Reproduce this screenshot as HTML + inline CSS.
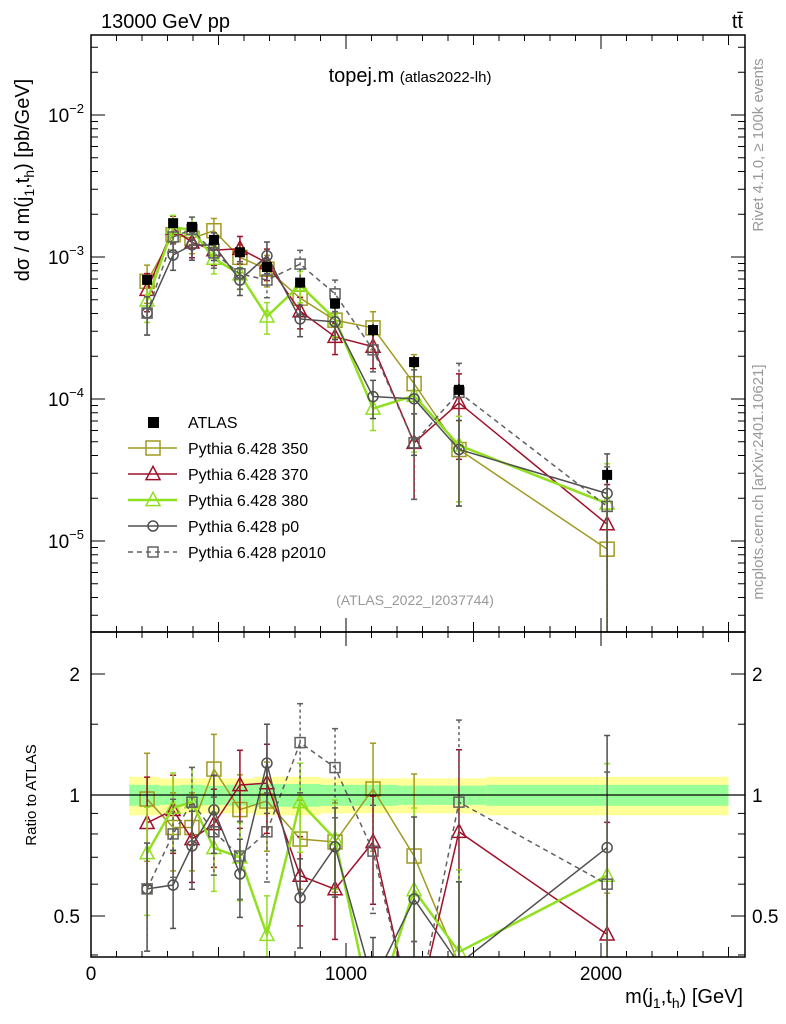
<!DOCTYPE html>
<html><head><meta charset="utf-8"><style>
html,body{margin:0;padding:0;background:#fff;width:786px;height:1024px;overflow:hidden;}
svg{display:block;font-family:"Liberation Sans",sans-serif;}
</style></head><body>
<svg id="chart" width="786" height="1024" viewBox="0 0 786 1024" xmlns="http://www.w3.org/2000/svg">
<defs>
<clipPath id="clipMain"><rect x="91" y="35" width="654" height="597"/></clipPath>
<clipPath id="clipRatio"><rect x="91" y="632" width="654" height="325"/></clipPath>
</defs>
<g id="band" clip-path="url(#clipRatio)"></g>
<g id="grid"></g>
<g id="mainMarks" clip-path="url(#clipMain)"></g>
<g id="ratioMarks" clip-path="url(#clipRatio)"></g>
<rect x="91" y="35" width="654" height="597" fill="none" stroke="#000" stroke-width="1.5"/>
<rect x="91" y="632" width="654" height="325" fill="none" stroke="#000" stroke-width="1.5"/>
<line x1="91" y1="795" x2="745" y2="795" stroke="#000" stroke-width="1.2"/>
<g id="axes"></g>
<text x="101" y="28" font-size="20">13000 GeV pp</text>
<text x="743" y="28" font-size="20" text-anchor="end">tt̄</text>
<text x="410" y="82" font-size="20" text-anchor="middle">topej.m <tspan font-size="15">(atlas2022-lh)</tspan></text>
<text x="415" y="605" font-size="14" fill="#999" text-anchor="middle">(ATLAS_2022_I2037744)</text>
<text transform="translate(29,180) rotate(-90)" font-size="20" text-anchor="middle">dσ / d m(j<tspan font-size="14" dy="5">1</tspan><tspan dy="-5">,t</tspan><tspan font-size="14" dy="5">h</tspan><tspan dy="-5">) [pb/GeV]</tspan></text>
<text transform="translate(36,795) rotate(-90)" font-size="15" text-anchor="middle">Ratio to ATLAS</text>
<text x="743" y="1003" font-size="20" text-anchor="end">m(j<tspan font-size="14" dy="5">1</tspan><tspan dy="-5">,t</tspan><tspan font-size="14" dy="5">h</tspan><tspan dy="-5">) [GeV]</tspan></text>
<text transform="translate(763,145) rotate(-90)" font-size="15" fill="#999" text-anchor="middle">Rivet 4.1.0, ≥ 100k events</text>
<text transform="translate(763,482) rotate(-90)" font-size="15" fill="#999" text-anchor="middle">mcplots.cern.ch [arXiv:2401.10621]</text>
<g id="legend"></g>
</svg>
<script>
const binCenters = [220, 322, 396, 482, 584, 690, 820, 957, 1106, 1267, 1443, 2024];
const atlasValues = [6.9e-4, 1.73e-3, 1.63e-3, 1.32e-3, 1.08e-3, 8.5e-4, 6.6e-4, 4.7e-4, 3.06e-4, 1.82e-4, 1.16e-4, 2.92e-5];
const atlasRelErr = [0.08, 0.07, 0.07, 0.07, 0.07, 0.08, 0.08, 0.08, 0.1, 0.1, 0.1, 0.12];
const ratio350 = [0.977, 0.83, 0.83, 1.16, 0.92, 0.966, 0.777, 0.764, 1.035, 0.705, 0.38, 0.30];
const ratio370 = [0.852, 0.918, 0.777, 0.847, 1.059, 1.07, 0.63, 0.583, 0.764, 0.27, 0.81, 0.45];
const ratio380 = [0.717, 0.93, 0.96, 0.738, 0.70, 0.449, 0.96, 0.777, 0.28, 0.58, 0.407, 0.63];
const ratioP0 = [0.584, 0.597, 0.747, 0.918, 0.636, 1.2, 0.555, 0.743, 0.34, 0.551, 0.38, 0.74];
const ratioP2010 = [0.584, 0.80, 0.96, 0.81, 0.705, 0.81, 1.35, 1.17, 0.725, 0.27, 0.96, 0.6];
const mcRelErr = [0.3, 0.22, 0.22, 0.22, 0.22, 0.25, 0.25, 0.25, 0.3, 0.6, 0.6, 0.9];
const bandEdges = [150, 270, 350, 440, 530, 640, 740, 900, 1000, 1200, 1350, 1550, 2500];
const bandInner = [0.06, 0.055, 0.06, 0.055, 0.06, 0.065, 0.065, 0.06, 0.06, 0.055, 0.055, 0.06];
const bandOuter = [0.11, 0.1, 0.1, 0.1, 0.1, 0.11, 0.11, 0.1, 0.1, 0.1, 0.1, 0.11];
const xTicksMajor = [0, 1000, 2000];
const yTickExps = [-2, -3, -4, -5];
const ratioTicks = [2, 1, 0.5];

const NS = "http://www.w3.org/2000/svg";
const X = v => 91 + v * 0.255;
const Y = v => 257 - (Math.log10(v) + 3) * 142;
const R = v => 795 - Math.log2(v) * 121;
function mk(tag, attrs, parent) {
  const e = document.createElementNS(NS, tag);
  for (const k in attrs) e.setAttribute(k, attrs[k]);
  parent.appendChild(e);
  return e;
}
const band = document.getElementById('band');
for (let i = 0; i < bandInner.length; i++) {
  const x0 = X(bandEdges[i]), x1 = X(bandEdges[i + 1]);
  const o = mk('rect', {x: x0, y: R(1 + bandOuter[i]), width: x1 - x0, height: R(1 - bandOuter[i]) - R(1 + bandOuter[i]), fill: '#ffff99'}, band);
  
  
  const n = mk('rect', {x: x0, y: R(1 + bandInner[i]), width: x1 - x0, height: R(1 - bandInner[i]) - R(1 + bandInner[i]), fill: '#99ff99'}, band);
  
  
}
const axes = document.getElementById('axes');
for (let v = 0; v <= 2500; v += 100) {
  const big = v % 1000 === 0, mid = v % 500 === 0;
  const len = big ? 14 : (mid ? 10 : 6);
  for (const [yb, dir] of [[632, -1], [957, -1], [35, 1], [632, 1]]) {
    mk('line', {x1: X(v), x2: X(v), y1: yb, y2: yb + dir * len, stroke: '#000', 'stroke-width': 1}, axes);
  }
}
xTicksMajor.forEach(v => {
  const t = mk('text', {x: X(v), y: 980, 'font-size': 19, 'text-anchor': 'middle'}, axes);
  t.textContent = v;
  
  
});
for (let e = -6; e <= -1; e++) {
  for (let m = 1; m <= 9; m++) {
    const y = Y(m * Math.pow(10, e));
    if (y < 35 || y > 632) continue;
    const len = m === 1 ? 14 : 7;
    mk('line', {x1: 91, x2: 91 + len, y1: y, y2: y, stroke: '#000'}, axes);
    mk('line', {x1: 745, x2: 745 - len, y1: y, y2: y, stroke: '#000'}, axes);
  }
}
yTickExps.forEach(e => {
  const t = mk('text', {x: 84, y: Y(Math.pow(10, e)) + 7, 'font-size': 19, 'text-anchor': 'end'}, axes);
  t.innerHTML = '10<tspan font-size="13" dy="-9">' + (e < 0 ? '−' : '') + Math.abs(e) + '</tspan>';
  
  
});
[0.4,0.5,0.6,0.7,0.8,0.9,1,1.5,2].forEach(v => {
  const y = R(v);
  const len = (v === 1 || v === 2 || v === 0.5) ? 14 : 7;
  mk('line', {x1: 91, x2: 91 + len, y1: y, y2: y, stroke: '#000'}, axes);
  mk('line', {x1: 745, x2: 745 - len, y1: y, y2: y, stroke: '#000'}, axes);
});
ratioTicks.forEach(v => {
  const t = mk('text', {x: 80, y: R(v) + 7, 'font-size': 19, 'text-anchor': 'end'}, axes);
  t.textContent = v;
  
  
  const t2 = mk('text', {x: 752, y: R(v) + 7, 'font-size': 19}, axes);
  t2.textContent = v;
  
  
});

function marker(shape, x, y, col, sw, parent, size) {
  if (shape === 'sq') mk('rect', {x: x - size, y: y - size, width: 2 * size, height: 2 * size, fill: 'none', stroke: col, 'stroke-width': sw}, parent);
  else if (shape === 'tri') mk('polygon', {points: `${x},${y - size * 1.1} ${x - size},${y + size * 0.8} ${x + size},${y + size * 0.8}`, fill: 'none', stroke: col, 'stroke-width': sw}, parent);
  else if (shape === 'circ') mk('circle', {cx: x, cy: y, r: size, fill: 'none', stroke: col, 'stroke-width': sw}, parent);
}
const series = [
  {name: 'Pythia 6.428 350', ratios: ratio350, col: '#a09a20', shape: 'sq', size: 7, sw: 1.5, dash: ''},
  {name: 'Pythia 6.428 370', ratios: ratio370, col: '#a0102a', shape: 'tri', size: 7, sw: 1.5, dash: ''},
  {name: 'Pythia 6.428 380', ratios: ratio380, col: '#90e020', shape: 'tri', size: 7, sw: 2.5, dash: ''},
  {name: 'Pythia 6.428 p0', ratios: ratioP0, col: '#505050', shape: 'circ', size: 5, sw: 1.5, dash: ''},
  {name: 'Pythia 6.428 p2010', ratios: ratioP2010, col: '#606060', shape: 'sq', size: 5, sw: 1.5, dash: '5,4'}
];
const mainG = document.getElementById('mainMarks');
const ratioG = document.getElementById('ratioMarks');
series.forEach((s, si) => {
  const gm = mk('g', {}, mainG);
  
  
  const gr = mk('g', {}, ratioG);
  
  
  const vals = s.ratios.map((r, i) => r * atlasValues[i]);
  mk('polyline', {points: binCenters.map((c, i) => X(c) + ',' + Y(vals[i])).join(' '), fill: 'none', stroke: s.col, 'stroke-width': s.sw, 'stroke-dasharray': s.dash}, gm);
  mk('polyline', {points: binCenters.map((c, i) => X(c) + ',' + R(s.ratios[i])).join(' '), fill: 'none', stroke: s.col, 'stroke-width': s.sw, 'stroke-dasharray': s.dash}, gr);
  binCenters.forEach((c, i) => {
    const x = X(c);
    const e = mcRelErr[i];
    const lo = Math.max(1 - e, 0.02);
    [[gm, v => Y(v * atlasValues[i])], [gr, R]].forEach(([g, f]) => {
      const r = s.ratios[i];
      const y1 = f(r * (1 + e)), y2 = f(r * lo);
      mk('line', {x1: x, x2: x, y1: y1, y2: y2, stroke: s.col, 'stroke-width': 1.5, 'stroke-dasharray': s.dash ? '3,3' : ''}, g);
      mk('line', {x1: x - 3, x2: x + 3, y1: y1, y2: y1, stroke: s.col, 'stroke-width': 1.5}, g);
      mk('line', {x1: x - 3, x2: x + 3, y1: y2, y2: y2, stroke: s.col, 'stroke-width': 1.5}, g);
      marker(s.shape, x, f(r), s.col, 1.5, g, s.size);
    });
  });
});
const ga = mk('g', {}, mainG);


binCenters.forEach((c, i) => {
  const x = X(c), y = Y(atlasValues[i]);
  mk('line', {x1: x, x2: x, y1: Y(atlasValues[i] * (1 + atlasRelErr[i])), y2: Y(atlasValues[i] * (1 - atlasRelErr[i])), stroke: '#000', 'stroke-width': 1.5}, ga);
  const p = mk('rect', {x: x - 5, y: y - 5, width: 10, height: 10, fill: '#000'}, ga);
  
  
});
const leg = document.getElementById('legend');
const la = mk('g', {}, leg);


mk('rect', {x: 148, y: 417, width: 11, height: 11, fill: '#000'}, la);
const lt = mk('text', {x: 188, y: 428, 'font-size': 16}, la);
lt.textContent = 'ATLAS';
series.forEach((s, i) => {
  const y = 448 + i * 26;
  const g = mk('g', {}, leg);
  
  
  mk('line', {x1: 128, x2: 177, y1: y, y2: y, stroke: s.col, 'stroke-width': s.sw, 'stroke-dasharray': s.dash}, g);
  marker(s.shape, 153, y, s.col, 1.5, g, s.size);
  const t = mk('text', {x: 188, y: y + 6, 'font-size': 16}, g);
  t.textContent = s.name;
});
</script>
</body></html>
